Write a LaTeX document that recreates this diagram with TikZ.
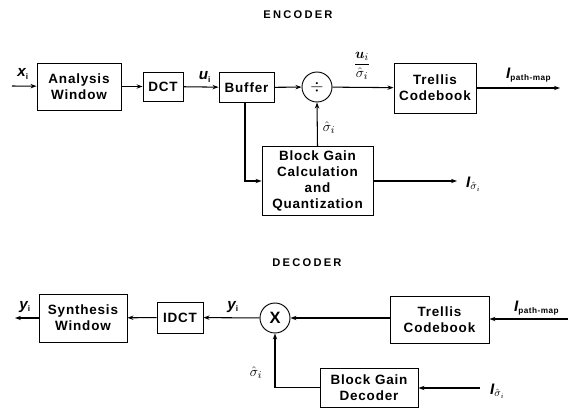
\documentclass[tikz,border=0pt]{standalone}
\usepackage{amsmath,amssymb}
\usepackage{fontspec}
\setmainfont[LetterSpace=6]{Liberation Sans}
\newfontfamily\titlefont[LetterSpace=20]{Liberation Sans}
\usepackage{tikz}
\usetikzlibrary{arrows.meta,positioning,calc}
\tikzset{
  box/.style={draw,line width=0.8pt,align=center,font=\fontsize{11.5}{13.5}\selectfont\bfseries,inner sep=2pt},
  op/.style={draw,circle,line width=0.8pt,minimum size=0.9cm,inner sep=0pt,font=\fontsize{14}{14}\selectfont\bfseries},
  arr/.style={-{Stealth[length=1.8mm,width=1.3mm]},line width=0.9pt},
  lbl/.style={font=\fontsize{13}{13}\selectfont\bfseries\itshape},
  mlbl/.style={font=\fontsize{12.5}{13}\selectfont},
  ttl/.style={font=\titlefont\fontsize{9.5}{10}\selectfont\bfseries},
}
\newcommand{\shat}{\ensuremath{\hat{\sigma}_i}}
\newcommand{\sub}[1]{\textsubscript{\upshape\fontsize{7}{7}\selectfont #1}}

\begin{document}
\begin{tikzpicture}[x=0.03cm,y=-0.03cm]
\useasboundingbox (0,0) rectangle (579,413);
% encoder
\node[ttl] (enc) at (298,15) {ENCODER};
\coordinate (xin) at (12,86);
\node[box,minimum width=2.52cm,minimum height=1.41cm] (aw) at (79,86.5) {Analysis\\Window};
\node[box,minimum width=1.2cm,minimum height=0.87cm] (dct) at (163,86.5) {DCT};
\node[box,minimum width=1.65cm,minimum height=0.9cm] (buf) at (246.5,87.5) {Buffer};
\node[op] (div) at (317,87) {$\div$};
\node[box,minimum width=2.46cm,minimum height=1.5cm] (tc) at (435,88) {Trellis\\Codebook};
\coordinate (pout) at (560,88);
\node[box,minimum width=3.33cm,minimum height=2.07cm] (bg) at (317.5,181) {Block Gain\\Calculation\\and\\Quantization};
\coordinate (sout) at (457,181);
\draw[arr] (xin) -- (aw);
\draw[arr] (aw) -- (dct);
\draw[arr] (dct) -- (buf);
\draw[arr] (buf) -- (div);
\draw[arr] (div) -- (tc);
\draw[arr] (tc) -- (pout);
\draw[arr] (buf.south -| 245,0) |- (bg.west);
\draw[arr] (bg.north) -- (div.south);
\draw[arr] (bg.east |- sout) -- (sout);
\node[lbl] (lx) at (23,74) {x\sub{i}};
\node[lbl] (lu) at (205,77) {u\sub{i}};
\node[mlbl] (lfrac) at (362,66) {$\dfrac{\boldsymbol{u}_i}{\hat{\sigma}_i}$};
\node[mlbl] (ls) at (329,128) {\shat};
\node[lbl,anchor=west] (lp) at (502,75) {I\sub{path-map}};
\node[lbl,anchor=west] (lsi) at (462,184) {I\textsubscript{\small\shat}};
% decoder
\node[ttl] (dec) at (307,263) {DECODER};
\coordinate (yout) at (15,318);
\node[box,minimum width=2.64cm,minimum height=1.44cm] (sw) at (83,318) {Synthesis\\Window};
\node[box,minimum width=1.38cm,minimum height=0.93cm] (idct) at (180,317.5) {IDCT};
\node[op] (mul) at (275,318) {X};
\node[box,minimum width=2.97cm,minimum height=1.41cm] (tcd) at (439.5,319.5) {Trellis\\Codebook};
\coordinate (pin) at (568,319);
\node[box,minimum width=2.94cm,minimum height=1.17cm] (bgd) at (369,387.5) {Block Gain\\Decoder};
\coordinate (sin) at (480,388);
\draw[arr] (pin) -- (tcd.east |- pin);
\draw[arr] (tcd.west |- mul) -- (mul);
\draw[arr] (mul) -- (idct);
\draw[arr] (idct) -- (sw);
\draw[arr] (sw) -- (yout);
\draw[arr] (sin) -- (bgd.east |- sin);
\draw[arr] (bgd.west) -| (mul.south);
\node[lbl] (ly) at (25,307) {y\sub{i}};
\node[lbl] (ly2) at (233,307) {y\sub{i}};
\node[mlbl] (ls2) at (256,373) {\shat};
\node[lbl,anchor=west] (lp2) at (510,308) {I\sub{path-map}};
\node[lbl,anchor=west] (lsi2) at (486,391) {I\textsubscript{\small\shat}};
\end{tikzpicture}
\end{document}
